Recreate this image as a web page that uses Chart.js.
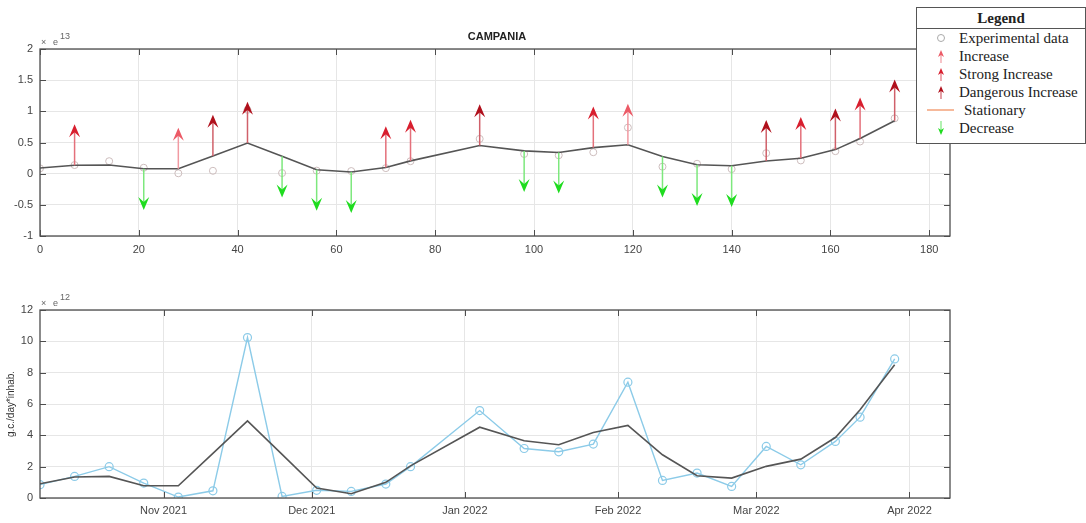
<!DOCTYPE html>
<html>
<head>
<meta charset="utf-8">
<script src="https://cdn.jsdelivr.net/npm/chart.js@4.4.1/dist/chart.umd.min.js"></script>
<style>
  body { margin: 0; background: #fff; width: 1086px; height: 523px; overflow: hidden; position: relative; }
  canvas { position: absolute; left: 0; }
  #topChart { top: 0; }
  #bottomChart { top: 262px; }
  #legend {
    position: absolute; left: 916px; top: 7px; width: 168px; height: 135px;
    border: 1px solid #555; background: #fff;
    font-family: "Liberation Serif", "DejaVu Serif", serif; font-size: 15px; color: #222;
  }
  #legend .head { text-align: center; font-weight: bold; height: 20px; line-height: 20px; border-bottom: 1px solid #555; }
  #legend .row { position: relative; height: 18px; line-height: 18px; padding-left: 42px; white-space: nowrap; }
  #legend .row svg { position: absolute; left: 0; top: 0; }
</style>
</head>
<body>
<canvas id="topChart" width="960" height="262"></canvas>
<canvas id="bottomChart" width="960" height="261"></canvas>
<div id="legend">
  <div class="head">Legend</div>
  <div class="row"><svg width="40" height="18"><circle cx="24" cy="9" r="3.5" fill="none" stroke="#aaa" stroke-width="1"/></svg>Experimental data</div>
  <div class="row"><svg width="40" height="18"><line x1="24" y1="16" x2="24" y2="6" stroke="#f19aa2" stroke-width="1.2"/><path d="M24 3 L21 10 L24 8 L27 10 Z" fill="#ec5a66"/></svg>Increase</div>
  <div class="row"><svg width="40" height="18"><line x1="24" y1="16" x2="24" y2="6" stroke="#e4707b" stroke-width="1.2"/><path d="M24 3 L21 10 L24 8 L27 10 Z" fill="#d81e2e"/></svg>Strong Increase</div>
  <div class="row"><svg width="40" height="18"><line x1="24" y1="16" x2="24" y2="6" stroke="#d0606a" stroke-width="1.2"/><path d="M24 3 L21 10 L24 8 L27 10 Z" fill="#b0101c"/></svg>Dangerous Increase</div>
  <div class="row" style="padding-left:47px"><svg width="40" height="18"><line x1="10" y1="9" x2="37" y2="9" stroke="#f3a27a" stroke-width="1.5"/></svg>Stationary</div>
  <div class="row"><svg width="40" height="18"><line x1="24" y1="2" x2="24" y2="12" stroke="#7de87d" stroke-width="1.2"/><path d="M24 16 L21 9 L24 11 L27 9 Z" fill="#1fdc1f"/></svg>Decrease</div>
</div>
<script>
// sampling days (counted from the first sample, 7 Oct 2021)
const startDate = new Date(2021, 9, 7);
const days = [0, 7, 14, 21, 28, 35, 42, 49, 56, 63, 70, 75, 89, 98, 105, 112, 119, 126, 133, 140, 147, 154, 161, 166, 173];

// measured load, x 1e12 g.c./day*inhab.
const experimental = [0.85, 1.38, 2.0, 0.95, 0.06, 0.46, 10.24, 0.1, 0.49, 0.42, 0.89, 2.0, 5.58, 3.16, 2.95, 3.44, 7.39, 1.12, 1.59, 0.74, 3.29, 2.12, 3.61, 5.16, 8.88];

// smoothed trend, x 1e12
const trend = [0.91, 1.34, 1.38, 0.78, 0.78, 2.85, 4.92, 2.78, 0.64, 0.27, 1.0, 2.05, 4.52, 3.65, 3.4, 4.18, 4.63, 2.76, 1.42, 1.27, 2.02, 2.48, 3.86, 5.63, 8.5];

// S = stationary, I = increase, SI = strong increase, DI = dangerous increase, D = decrease
const trendClass = ['S', 'SI', 'S', 'D', 'I', 'DI', 'DI', 'D', 'D', 'D', 'SI', 'SI', 'DI', 'D', 'D', 'SI', 'I', 'D', 'D', 'D', 'DI', 'SI', 'DI', 'SI', 'DI'];

const monthLabels = ['Nov 2021', 'Dec 2021', 'Jan 2022', 'Feb 2022', 'Mar 2022', 'Apr 2022'];
const monthStarts = [new Date(2021, 10, 1), new Date(2021, 11, 1), new Date(2022, 0, 1), new Date(2022, 1, 1), new Date(2022, 2, 1), new Date(2022, 3, 1)];
const monthDays = monthStarts.map(d => Math.round((d - startDate) / 86400000));

const ARROW_LEN = 0.66;   // arrow length on the x 1e13 axis
const X_MAX = 184.2;

const headColors = { I: '#ec5a66', SI: '#d81e2e', DI: '#b0101c', D: '#1fdc1f' };
const shaftColors = { I: '#f19aa2', SI: '#e4707b', DI: '#d0606a', D: '#7de87d' };

const tickFont = { family: "'Liberation Sans', Arial, sans-serif", size: 11 };

// MATLAB-like box with inward ticks
const boxPlugin = {
    id: 'box',
    afterDraw(chart) {
        const { ctx, chartArea: a, scales: { x, y } } = chart;
        ctx.save();
        ctx.strokeStyle = '#4d4d4d';
        ctx.lineWidth = 1.3;
        ctx.strokeRect(a.left, a.top, a.right - a.left, a.bottom - a.top);
        ctx.lineWidth = 1;
        ctx.beginPath();
        x.ticks.forEach(t => {
            const px = Math.round(x.getPixelForValue(t.value)) + 0.5;
            ctx.moveTo(px, a.bottom); ctx.lineTo(px, a.bottom - 6);
            ctx.moveTo(px, a.top); ctx.lineTo(px, a.top + 6);
        });
        y.ticks.forEach(t => {
            const py = Math.round(y.getPixelForValue(t.value)) + 0.5;
            ctx.moveTo(a.left, py); ctx.lineTo(a.left + 6, py);
            ctx.moveTo(a.right, py); ctx.lineTo(a.right - 6, py);
        });
        ctx.stroke();

        // exponent label above the y axis
        const exp = chart.options.plugins.box.exponent;
        ctx.fillStyle = '#666';
        ctx.font = "9px 'Liberation Sans', Arial, sans-serif";
        ctx.textBaseline = 'alphabetic';
        ctx.fillText('\u00d7', a.left + 1, a.top - 4);
        ctx.fillText('e', a.left + 13, a.top - 4);
        ctx.fillText(exp, a.left + 20, a.top - 10);

        const title = chart.options.plugins.box.title;
        if (title) {
            ctx.fillStyle = '#222';
            ctx.font = "bold 11px 'Liberation Sans', Arial, sans-serif";
            ctx.textAlign = 'center';
            ctx.fillText(title, (a.left + a.right) / 2 + 2, a.top - 9);
        }
        ctx.restore();
    }
};

// trend arrows drawn from the trend value
const arrowPlugin = {
    id: 'arrows',
    afterDatasetsDraw(chart) {
        const { ctx, scales: { x, y } } = chart;
        ctx.save();
        days.forEach((d, i) => {
            const kind = trendClass[i];
            if (kind === 'S') return;
            const base = trend[i] / 10;
            const tip = kind === 'D' ? base - ARROW_LEN : base + ARROW_LEN;
            const px = x.getPixelForValue(d);
            const y0 = y.getPixelForValue(base);
            const y1 = y.getPixelForValue(tip);
            const dir = y1 < y0 ? 1 : -1;
            const headLen = 13, headHalf = 5.5;

            ctx.strokeStyle = shaftColors[kind];
            ctx.lineWidth = 1.5;
            ctx.beginPath();
            ctx.moveTo(px, y0);
            ctx.lineTo(px, y1 + dir * headLen * 0.6);
            ctx.stroke();

            ctx.fillStyle = headColors[kind];
            ctx.beginPath();
            ctx.moveTo(px, y1);
            ctx.lineTo(px - headHalf, y1 + dir * headLen);
            ctx.lineTo(px, y1 + dir * headLen * 0.62);
            ctx.lineTo(px + headHalf, y1 + dir * headLen);
            ctx.closePath();
            ctx.fill();
        });
        ctx.restore();
    }
};

function fixWidth(w) { return scale => { scale.width = w; }; }
function fixHeight(h) { return scale => { scale.height = h; }; }
const plainNumber = value => String(Math.round(value * 100) / 100);

new Chart(document.getElementById('topChart'), {
    type: 'scatter',
    data: {
        datasets: [
            {
                data: days.map((d, i) => ({ x: d, y: trend[i] / 10 })),
                showLine: true,
                borderColor: '#555',
                borderWidth: 1.6,
                pointRadius: 0
            },
            {
                data: days.map((d, i) => ({ x: d, y: experimental[i] / 10 })),
                showLine: false,
                pointRadius: 3.5,
                pointBorderWidth: 1,
                pointBorderColor: '#cdbdbd',
                pointBackgroundColor: 'rgba(0,0,0,0)'
            }
        ]
    },
    options: {
        responsive: false,
        animation: false,
        layout: { padding: { top: 49, right: 10, left: 0, bottom: 0 } },
        plugins: {
            legend: { display: false },
            tooltip: { enabled: false },
            box: { exponent: '13', title: 'CAMPANIA' }
        },
        scales: {
            x: {
                type: 'linear', min: 0, max: X_MAX,
                afterFit: fixHeight(26),
                grid: { color: '#e6e6e6', drawTicks: false },
                border: { display: false },
                ticks: { stepSize: 20, includeBounds: false, font: tickFont, color: '#444', padding: 7, maxRotation: 0, callback: plainNumber }
            },
            y: {
                min: -1, max: 2,
                afterFit: fixWidth(40),
                grid: { color: '#e6e6e6', drawTicks: false },
                border: { display: false },
                ticks: { stepSize: 0.5, font: tickFont, color: '#444', padding: 7, callback: plainNumber }
            }
        }
    },
    plugins: [boxPlugin, arrowPlugin]
});

new Chart(document.getElementById('bottomChart'), {
    type: 'scatter',
    data: {
        datasets: [
            {
                data: days.map((d, i) => ({ x: d, y: trend[i] })),
                showLine: true,
                borderColor: '#555',
                borderWidth: 1.6,
                pointRadius: 0
            },
            {
                data: days.map((d, i) => ({ x: d, y: experimental[i] })),
                showLine: true,
                borderColor: '#8ccbe8',
                borderWidth: 1.4,
                pointRadius: 4,
                pointBorderWidth: 1.2,
                pointBorderColor: '#8ccbe8',
                pointBackgroundColor: 'rgba(0,0,0,0)'
            }
        ]
    },
    options: {
        responsive: false,
        animation: false,
        layout: { padding: { top: 48, right: 10, left: 0, bottom: 0 } },
        plugins: {
            legend: { display: false },
            tooltip: { enabled: false },
            box: { exponent: '12' }
        },
        scales: {
            x: {
                type: 'linear', min: 0, max: X_MAX,
                afterFit: fixHeight(25),
                afterBuildTicks: scale => { scale.ticks = monthDays.map(v => ({ value: v })); },
                grid: { color: '#e6e6e6', drawTicks: false },
                border: { display: false },
                ticks: {
                    font: tickFont, color: '#444', padding: 6, maxRotation: 0, autoSkip: false,
                    callback: value => monthLabels[monthDays.indexOf(value)]
                }
            },
            y: {
                min: 0, max: 12,
                afterFit: fixWidth(40),
                grid: { color: '#e6e6e6', drawTicks: false },
                border: { display: false },
                ticks: { stepSize: 2, font: tickFont, color: '#444', padding: 7, callback: plainNumber },
                title: { display: true, text: 'g.c./day*inhab.', font: { family: "'Liberation Sans', Arial, sans-serif", size: 10 }, color: '#333', padding: { top: 5, bottom: 0 } }
            }
        }
    },
    plugins: [boxPlugin]
});
</script>
</body>
</html>
